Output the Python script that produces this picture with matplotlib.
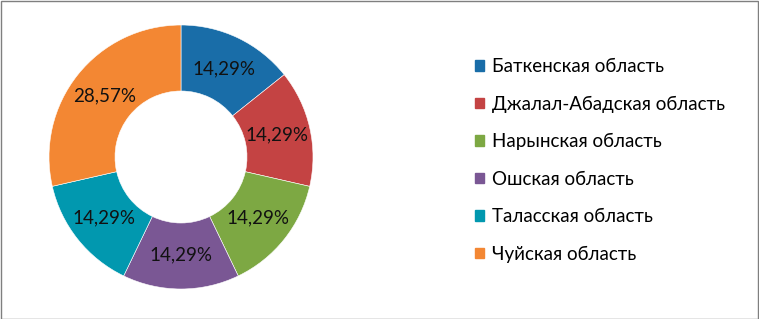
import matplotlib
matplotlib.use("Agg")
import matplotlib.pyplot as plt
from matplotlib.patches import Rectangle, Patch

categories = ["Баткенская область", "Джалал-Абадская область", "Нарынская область",
              "Ошская область", "Таласская область", "Чуйская область"]
values = [14.29, 14.29, 14.29, 14.29, 14.29, 28.57]
labels = ["14,29%", "14,29%", "14,29%", "14,29%", "14,29%", "28,57%"]
colors = ["#196DA8", "#C44343", "#7DA843", "#7A5794", "#0198AF", "#F38733"]

plt.rcParams['font.family'] = ['Lato', 'DejaVu Sans']

fig = plt.figure(figsize=(7.59, 3.19), dpi=100)
fig.patch.set_facecolor("white")
fig.add_artist(Rectangle((0.5/759, 0.5/319), 1 - 1.5/759, 1 - 1.5/319, transform=fig.transFigure,
                         fill=False, edgecolor="#7F7F7F", linewidth=1.0))

ax = fig.add_axes([49/759, 30/319, 264/759, 264/319])
wedges, texts = ax.pie(values, colors=colors, startangle=90, counterclock=False,
                       radius=1.0, wedgeprops=dict(width=0.5, edgecolor="white", linewidth=0.4),
                       labels=labels, labeldistance=0.745,
                       textprops=dict(fontsize=13.5, color="#111111", ha="center", va="center"))
for t in texts:
    t.set_ha("center")
    t.set_va("center")
ax.set_xlim(-1, 1)
ax.set_ylim(-1, 1)
ax.set_aspect("equal")

handles = [Patch(facecolor=c, edgecolor=c) for c in colors]
fig.legend(handles, categories, loc="upper left", bbox_to_anchor=(475/759, 1 - 58/319),
           frameon=False, fontsize=13.5, handlelength=0.5, handleheight=0.5,
           handletextpad=0.4, labelspacing=1.09, borderpad=0, borderaxespad=0)

fig.savefig("out.png", dpi=100, facecolor="white")
